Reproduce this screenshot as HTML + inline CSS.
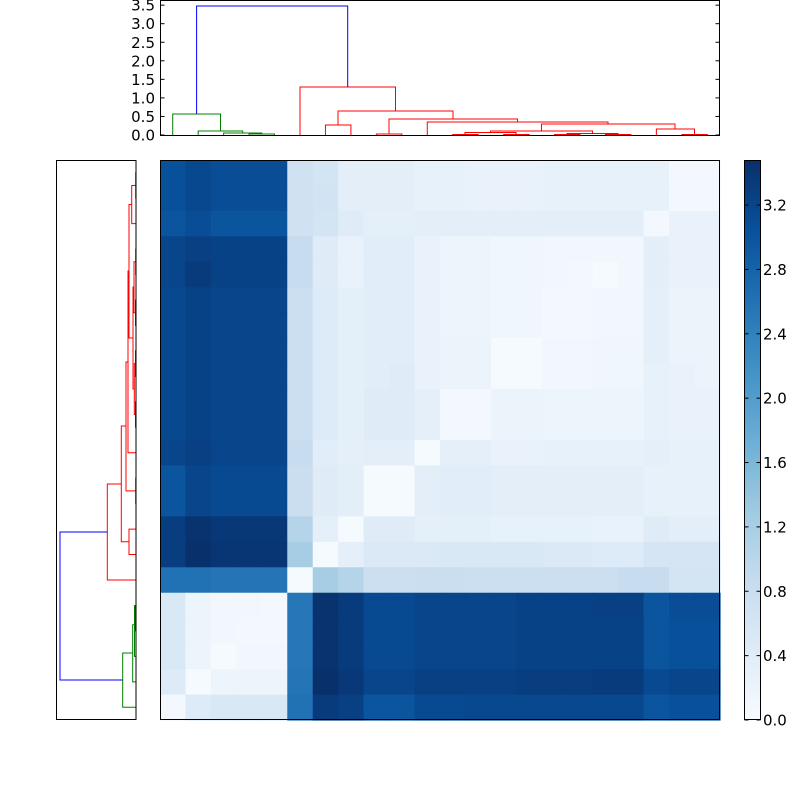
<!DOCTYPE html>
<html><head><meta charset="utf-8"><style>
html,body{margin:0;padding:0;background:#fff;width:800px;height:800px;overflow:hidden}
svg text{font-family:"DejaVu Sans","Liberation Sans",sans-serif;font-size:15px;fill:#000}
</style></head><body>
<svg id="s" width="800" height="800" xmlns="http://www.w3.org/2000/svg"></svg>
<script>
const S=document.getElementById('s');
let h='';
const stops=['#f7fbff','#deebf7','#c6dbef','#9ecae1','#6baed6','#4292c6','#2171b5','#08519c','#08306b'];
function hx(c){return [1,3,5].map(i=>parseInt(c.substr(i,2),16));}
function cm(v){v=Math.max(0,Math.min(1,v));const p=v*8,i=Math.min(7,Math.floor(p)),f=p-i;const a=hx(stops[i]),b=hx(stops[i+1]);return 'rgb('+a.map((x,k)=>Math.round(x+(b[k]-x)*f)).join(',')+')';}
const R=[
[.88,.91,.89,.89,.89,.20,.18,.10,.10,.10,.08,.08,.07,.07,.07,.08,.08,.08,.08,.08,.02,.02],
[.88,.91,.89,.89,.89,.20,.19,.10,.10,.10,.08,.08,.07,.07,.07,.08,.08,.08,.08,.08,.02,.02],
[.86,.89,.86,.86,.86,.20,.18,.12,.09,.09,.10,.10,.10,.10,.10,.10,.10,.10,.10,.02,.07,.07],
[.92,.94,.93,.93,.93,.24,.12,.07,.11,.11,.07,.05,.05,.04,.04,.03,.03,.03,.03,.10,.07,.07],
[.92,.96,.93,.93,.93,.24,.12,.07,.11,.11,.07,.05,.05,.04,.04,.03,.02,.01,.03,.10,.07,.07],
[.91,.93,.92,.92,.92,.22,.13,.09,.11,.11,.07,.05,.05,.04,.04,.02,.02,.03,.03,.09,.06,.06],
[.91,.93,.92,.92,.92,.22,.13,.09,.11,.11,.07,.05,.05,.04,.04,.02,.02,.03,.03,.09,.06,.06],
[.91,.93,.92,.92,.92,.22,.13,.09,.11,.11,.07,.06,.06,.01,.01,.03,.03,.04,.04,.09,.06,.06],
[.91,.93,.92,.92,.92,.22,.13,.09,.11,.12,.07,.06,.06,.01,.01,.03,.03,.04,.04,.08,.07,.06],
[.91,.93,.92,.92,.92,.22,.13,.09,.12,.12,.09,.02,.02,.06,.06,.05,.05,.05,.05,.08,.07,.07],
[.91,.93,.92,.92,.92,.22,.13,.09,.12,.12,.09,.02,.02,.06,.06,.05,.05,.05,.05,.08,.07,.07],
[.92,.94,.92,.92,.92,.24,.11,.09,.10,.10,.01,.09,.09,.07,.07,.08,.08,.08,.08,.09,.08,.08],
[.86,.92,.90,.90,.90,.23,.12,.10,.01,.01,.10,.11,.11,.10,.10,.10,.10,.10,.10,.08,.08,.08],
[.86,.92,.90,.90,.90,.23,.12,.10,.01,.01,.10,.11,.11,.10,.10,.10,.10,.10,.10,.08,.08,.08],
[.95,.99,.97,.97,.97,.30,.09,.01,.12,.12,.09,.09,.09,.08,.08,.08,.08,.07,.07,.12,.10,.10],
[.95,1.0,.98,.98,.98,.35,.01,.09,.14,.14,.14,.15,.15,.15,.15,.14,.14,.13,.13,.17,.17,.17],
[.75,.75,.74,.74,.74,.01,.35,.30,.22,.22,.23,.23,.22,.22,.22,.22,.22,.22,.24,.24,.18,.18],
[.15,.05,.03,.03,.02,.73,.99,.96,.90,.90,.92,.92,.92,.92,.93,.93,.93,.94,.94,.86,.89,.89],
[.15,.05,.03,.02,.02,.73,.99,.96,.90,.90,.92,.92,.92,.92,.93,.93,.93,.93,.93,.86,.88,.88],
[.15,.05,.01,.03,.03,.73,.99,.96,.90,.90,.92,.92,.92,.92,.93,.93,.93,.93,.93,.86,.88,.88],
[.13,.01,.05,.05,.05,.74,1.0,.97,.92,.92,.94,.94,.94,.94,.95,.95,.95,.96,.96,.90,.92,.92],
[.02,.13,.15,.15,.15,.75,.96,.94,.86,.86,.90,.90,.91,.91,.91,.91,.91,.91,.91,.86,.88,.88]];
const cw=560/22;
for(let r=0;r<22;r++)for(let c=0;c<22;c++){
 h+=`<rect x="${(160+c*cw).toFixed(2)}" y="${(160+r*cw).toFixed(2)}" width="${(cw+0.6).toFixed(2)}" height="${(cw+0.6).toFixed(2)}" fill="${cm(R[r][c])}"/>`;}
h+='<rect x="160.5" y="160.5" width="559" height="559" fill="none" stroke="#000"/>';
// colorbar
h+='<defs><linearGradient id="g" x1="0" y1="1" x2="0" y2="0">'+stops.map((s,i)=>`<stop offset="${i/8}" stop-color="${s}"/>`).join('')+'</linearGradient></defs>';
h+='<rect x="744.5" y="160.5" width="16" height="559" fill="url(#g)" stroke="#000"/>';
const pu=560/3.48;
for(let i=0;i<=8;i++){const v=i*0.4,y=720-v*pu;
 h+=`<line x1="756.5" x2="760.5" y1="${y}" y2="${y}" stroke="#000"/><line x1="744.5" x2="748.5" y1="${y}" y2="${y}" stroke="#000"/>`;
 h+=`<text x="763" y="${y+5.5}">${v.toFixed(1)}</text>`;}
// top dendrogram
const L=i=>160+cw*(i+0.5);
const ty=v=>135-v*37.1;
function U(x1,x2,y,y1,y2,col){h+=`<path d="M${x1} ${y1}V${y}H${x2}V${y2}" fill="none" stroke="${col}" stroke-width="1"/>`;}
const G='#008000',Rd='#ff0000',B='#0000ff';
U(L(3),L(4),134,135,135,G);
U(L(2),261.8,133,135,134,G);
U(L(1),242.7,131,135,133,G);
U(L(0),220.5,114,135,131,G);
U(L(6),L(7),125,135,135,Rd);
U(L(8),L(9),134,135,135,Rd);
U(L(11),L(12),134.5,135,135,Rd);
U(L(13),L(14),134.5,135,135,Rd);
U(L(15),L(16),134.5,135,135,Rd);
U(L(17),L(18),134.5,135,135,Rd);
U(L(20),L(21),134.5,135,135,Rd);
U(L(19),694.5,129,135,134.5,Rd);
U(567,618,133.5,134.5,134.5,Rd);
U(465,516,132.5,134.5,134.5,Rd);
U(490.5,592.5,131,132.5,133.5,Rd);
U(541.5,675,124,131,129,Rd);
U(L(10),608,122,135,124,Rd);
U(389,517.5,119,134,122,Rd);
U(338,453,111,125,119,Rd);
U(L(5),395.5,87,135,111,Rd);
U(196.6,347.7,6,114,87,B);
h+='<rect x="160.5" y="0.5" width="559" height="135" fill="none" stroke="#000"/>';
for(let i=0;i<=7;i++){const v=i*0.5,y=ty(v);
 h+=`<line x1="160.5" x2="164.5" y1="${y}" y2="${y}" stroke="#000"/><line x1="715.5" x2="719.5" y1="${y}" y2="${y}" stroke="#000"/>`;
 h+=`<text x="155" y="${y+5.5}" text-anchor="end">${v.toFixed(1)}</text>`;}
// left dendrogram (horizontal)
function V(y1,y2,x,x1,x2,col){h+=`<path d="M${x1} ${y1}H${x}V${y2}H${x2}" fill="none" stroke="${col}" stroke-width="1"/>`;}
V(L(17),L(18),135.5,136,136,G);
V(605.6,L(19),134.5,135.5,136,G);
V(624.7,L(20),132.7,134.5,136,G);
V(653,L(21),122.7,132.7,136,G);
V(L(0),L(1),135.7,136,136,Rd);
V(185.5,L(2),131.7,135.7,136,Rd);
V(L(3),L(4),135.7,136,136,Rd);
V(L(5),L(6),135.5,136,136,Rd);
V(L(7),L(8),135.5,136,136,Rd);
V(L(9),L(10),135.5,136,136,Rd);
V(261.8,312.7,134,135.7,135.5,Rd);
V(363.6,414.5,134.3,135.5,135.5,Rd);
V(287,389,133,134,134.3,Rd);
V(204.5,338,129,131.7,133,Rd);
V(271,L(11),128,129,136,Rd);
V(L(12),L(13),135.7,136,136,Rd);
V(362,490.9,126,128,135.7,Rd);
V(L(14),L(15),129,136,136,Rd);
V(426,541.7,121.3,126,129,Rd);
V(484,L(16),107.3,121.3,136,Rd);
V(532,680,60,107.3,122.7,B);
h+='<rect x="56.5" y="160.5" width="79.5" height="559" fill="none" stroke="#000"/>';
S.innerHTML=h;
</script>
</body></html>
